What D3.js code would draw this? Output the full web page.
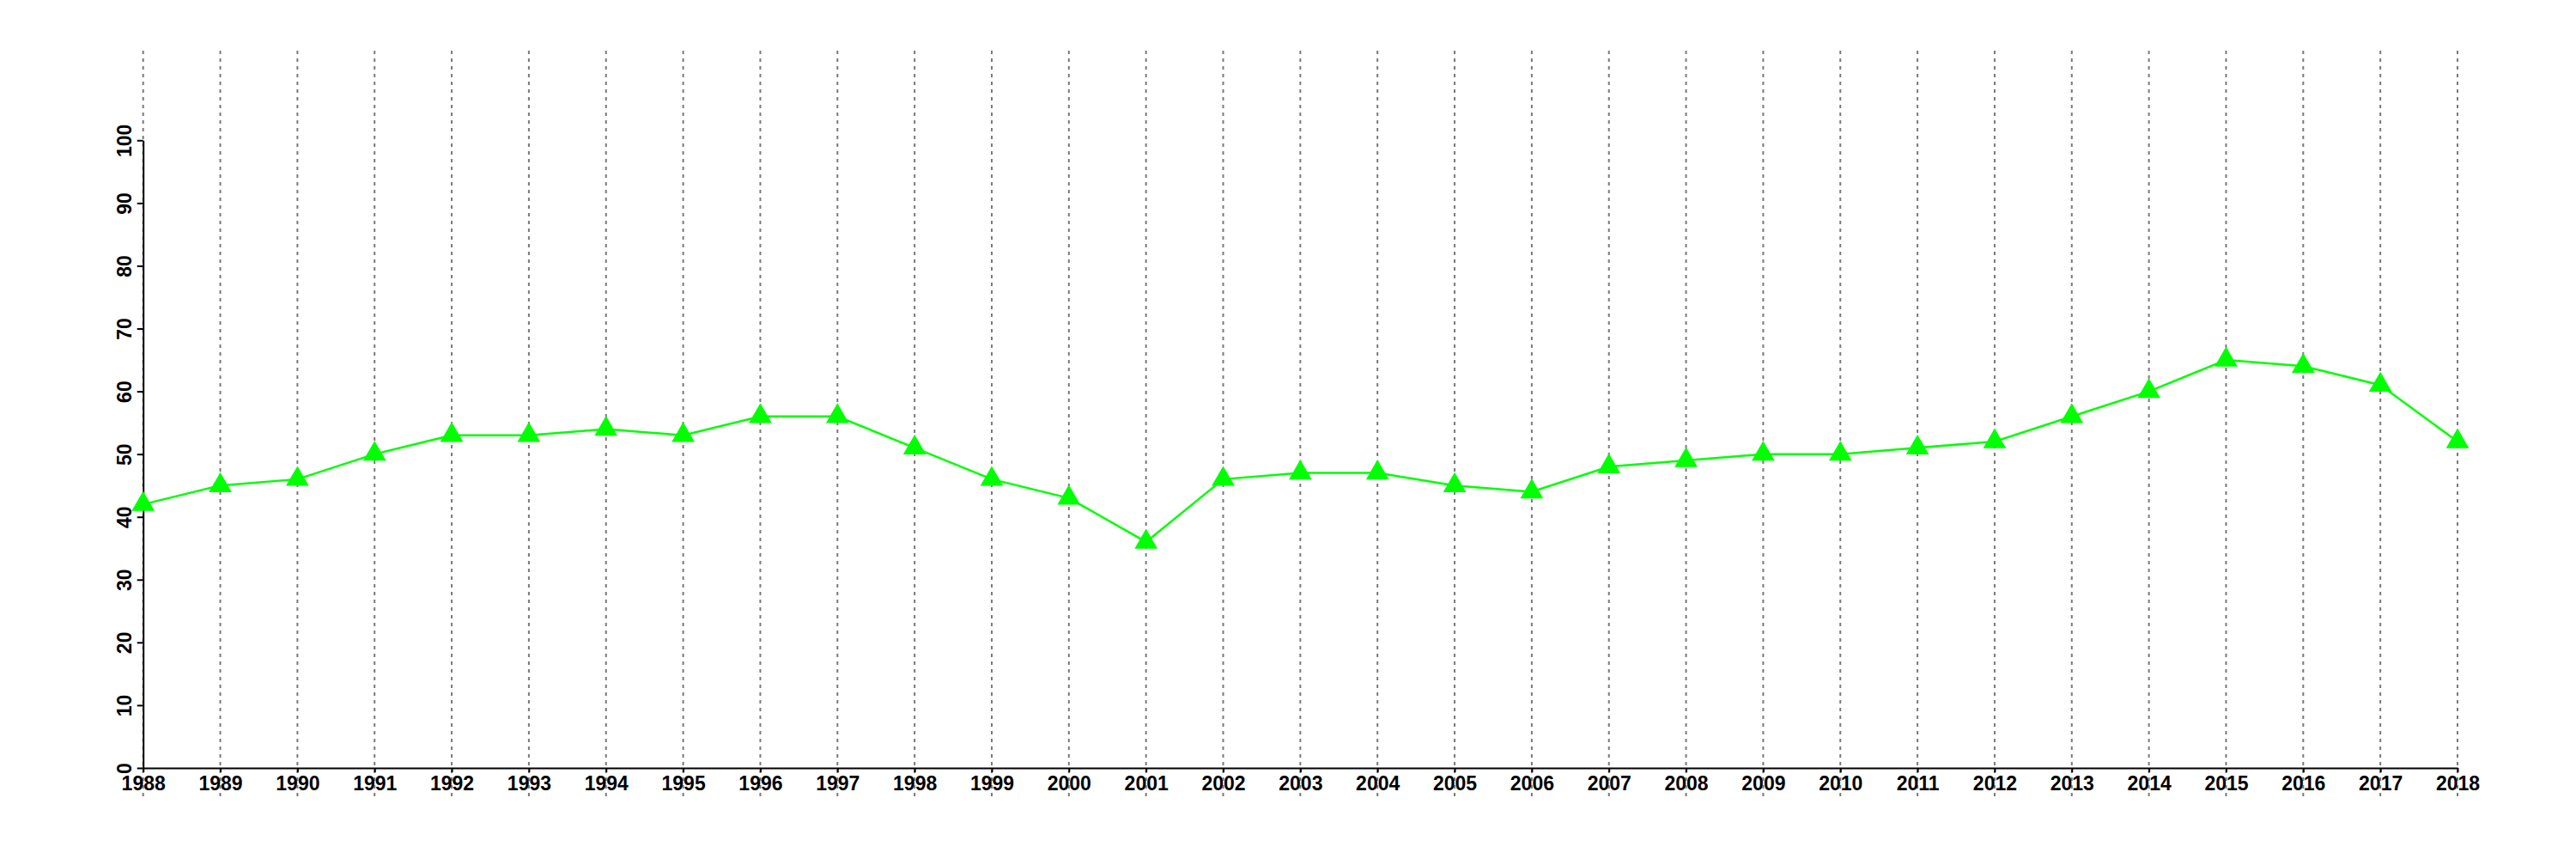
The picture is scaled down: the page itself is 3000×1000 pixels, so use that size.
<!DOCTYPE html>
<html>
<head>
<meta charset="utf-8">
<script src="https://cdn.jsdelivr.net/npm/d3@7"></script>
<style>
  html, body { margin: 0; padding: 0; background: #fff; }
  svg { display: block; }
  text { font-family: "Liberation Sans", Arial, sans-serif; font-weight: bold; }
</style>
</head>
<body>
<svg id="chart" width="3000" height="1000"></svg>
<script>
const years = [1988,1989,1990,1991,1992,1993,1994,1995,1996,1997,1998,1999,2000,2001,2002,2003,2004,2005,2006,2007,2008,2009,2010,2011,2012,2013,2014,2015,2016,2017,2018];
const values = [42,45,46,50,53,53,54,53,56,56,51,46,43,36,46,47,47,45,44,48,49,50,50,51,52,56,60,65,64,61,52];
const yTicks = [0,10,20,30,40,50,60,70,80,90,100];

const svg = d3.select("#chart");
svg.append("rect").attr("width", 3000).attr("height", 1000).attr("fill", "#fff");

const x = d3.scaleLinear().domain([1988, 2018]).range([166.7, 2862]);
const y = d3.scaleLinear().domain([0, 100]).range([894, 163.3]);

// vertical dashed grid lines
svg.append("g").selectAll("line").data(years).join("line")
  .attr("x1", d => x(d)).attr("x2", d => x(d))
  .attr("y1", 59).attr("y2", 928)
  .attr("stroke", "#7a7a7a").attr("stroke-width", 2)
  .attr("stroke-dasharray", "4,5");

// x axis
const xAxis = svg.append("g").attr("transform", `translate(0,${y(0)})`)
  .call(d3.axisBottom(x).tickValues(years).tickFormat(d3.format("d")).tickSize(5).tickSizeOuter(0));
xAxis.select(".domain").attr("stroke", "#000").attr("stroke-width", 2);
xAxis.selectAll(".tick line").attr("stroke", "#000").attr("stroke-width", 2);
xAxis.selectAll(".tick text").attr("y", 26).attr("dy", 0)
  .attr("fill", "#000").style("font-size", "23px").style("font-family", "'Liberation Sans', Arial, sans-serif").style("font-weight", "bold");

// y axis
const yAxis = svg.append("g").attr("transform", `translate(${x(1988)},0)`)
  .call(d3.axisLeft(y).tickValues(yTicks).tickSize(7).tickSizeOuter(0));
yAxis.select(".domain").attr("stroke", "#000").attr("stroke-width", 2);
yAxis.selectAll(".tick line").attr("stroke", "#000").attr("stroke-width", 2);
yAxis.selectAll(".tick text")
  .attr("x", 0).attr("dy", 0)
  .attr("transform", "translate(-14,0) rotate(-90)")
  .attr("text-anchor", "middle")
  .attr("fill", "#000").style("font-size", "23px").style("font-family", "'Liberation Sans', Arial, sans-serif").style("font-weight", "bold");

// line
const data = years.map((yr, i) => ({ yr, v: values[i] }));
svg.append("path").datum(data)
  .attr("fill", "none").attr("stroke", "#00ff00").attr("stroke-width", 2.5)
  .attr("d", d3.line().x(d => x(d.yr)).y(d => y(d.v)));

// triangle markers
const tri = d3.symbol().type(d3.symbolTriangle).size(310);
svg.append("g").selectAll("path").data(data).join("path")
  .attr("transform", d => `translate(${x(d.yr)},${y(d.v)})`)
  .attr("d", tri)
  .attr("fill", "#00ff00");
</script>
</body>
</html>
